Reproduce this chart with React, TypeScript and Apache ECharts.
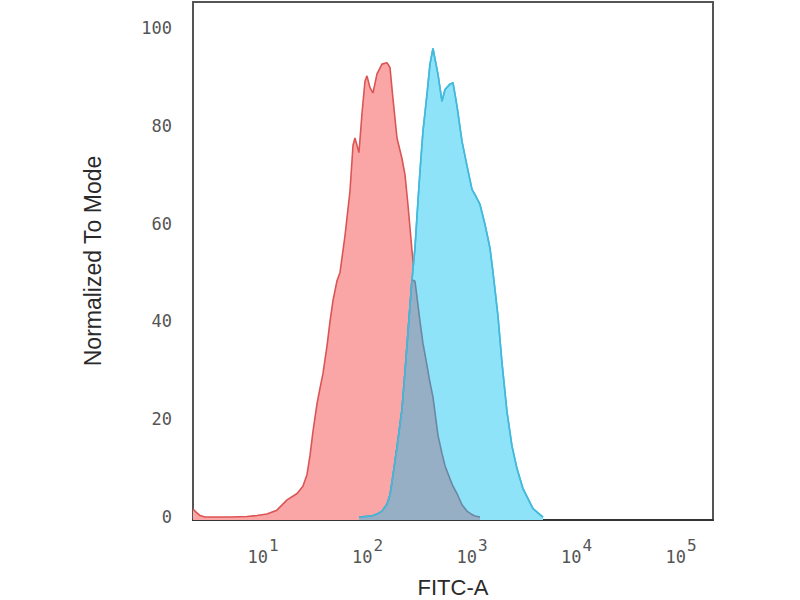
import React, { useEffect, useRef } from "react";
import * as echarts from "echarts";

// FITC-A intensity sample positions (shared by both histograms)
const fitc = [
  2.14, 2.29, 2.5, 2.79, 3.47, 4.83, 7.03, 8.76, 10.9, 13.6,
  17.0, 21.2, 24.1, 26.4, 28.2, 30.1, 32.9, 35.1, 37.5, 41.0,
  43.8, 46.8, 51.1, 54.6, 60.9, 68.0, 72.7, 75.9, 82.9, 88.6,
  94.6, 98.9, 105.7, 112.9, 123.3, 137.6, 153.7, 164.2, 175.4, 191.6,
  213.8, 228.5, 244.1, 266.6, 284.8, 297.6, 317.9, 339.7, 371, 396.3,
  423.4, 472.8, 516.4, 551.7, 615.9, 658, 718.7, 802.3, 896, 1000,
  1068, 1193, 1332, 1486, 1589, 1660, 1774, 1937, 2162, 2414,
  2696, 3076, 3834, 4779,
];

// Isotype control (red), normalized to mode
const control: (number | null)[] = [
  1.6, 1.0, 0.3, 0, 0, 0, 0.1, 0.3, 0.6, 1.4,
  3.5, 4.8, 6.3, 8.7, 12.6, 17.5, 23.2, 26.3, 29.3, 35,
  40, 44.3, 48.3, 50, 57.5, 66.6, 76, 77.5, 74.5, 82.5,
  89.1, 90.2, 87.8, 86.7, 90.6, 92.6, 92.9, 91.9, 85.5, 77.5,
  73.3, 70, 63.8, 54.5, 48.2, 45, 40, 35.5, 31, 27.5,
  24.5, 16.7, 13, 10.5, 7.8, 6.3, 4.8, 2.5, 1.2, 0.5,
  0.2, 0, null, null, null, null, null, null, null, null,
  null, null, null, null,
];

// Stained sample (blue), normalized to mode
const stained: (number | null)[] = [
  null, null, null, null, null, null, null, null, null, null,
  null, null, null, null, null, null, null, null, null, null,
  null, null, null, null, null, null, null, null, 0, 0,
  0.1, 0.1, 0.2, 0.3, 0.6, 1.2, 2.6, 4.5, 8.5, 14.3,
  22, 29.7, 37.8, 48.5, 55, 61.5, 70.7, 78.9, 86.4, 92.6,
  95.8, 90.5, 85, 87.4, 88.5, 88.8, 84, 76.8, 71.8, 67,
  65.9, 63.9, 59.8, 55, 50, 46.5, 41, 31.5, 21.5, 14.5,
  9.9, 5.8, 1.7, 0,
];

const xTickValues = [10, 100, 1000, 10000, 100000];
const xTickExponents = ["1", "2", "3", "4", "5"];
const yTickValues = [0, 20, 40, 60, 80, 100];

export default function App() {
  const ref = useRef<HTMLDivElement>(null);

  useEffect(() => {
    if (!ref.current) return;
    const chart = echarts.init(ref.current, undefined, { renderer: "svg" });

    const redData = fitc.map((x, i) => [x, control[i]]);
    const blueData = fitc.map((x, i) => [x, stained[i]]);
    const overlapData = fitc.map((x, i) => {
      const r = control[i];
      const b = stained[i];
      return [x, r == null || b == null ? null : Math.min(r, b)];
    });

    const tickFont = "DejaVu Sans Mono";

    chart.setOption({
      animation: false,
      backgroundColor: "#ffffff",
      grid: {
        left: 193,
        right: 87,
        top: 2,
        bottom: 80,
        outerBoundsMode: "none",
        containLabel: false,
        show: true,
        borderColor: "#555",
        borderWidth: 2,
        backgroundColor: "transparent",
      },
      xAxis: {
        type: "log",
        logBase: 10,
        min: 2.14,
        max: 202400,
        name: "FITC-A",
        nameLocation: "middle",
        nameGap: 56,
        nameTextStyle: {
          fontFamily: "Liberation Sans",
          fontSize: 22,
          color: "#2a2a2a",
        },
        axisLine: { show: true, onZero: false, lineStyle: { color: "#333", width: 2 } },
        axisTick: { show: false },
        splitLine: { show: false },
        minorTick: { show: false },
        axisLabel: {
          customValues: xTickValues,
          margin: 17,
          formatter: (v: number) => {
            const idx = xTickValues.findIndex((t) => Math.abs(t - v) / t < 1e-6);
            const e = idx >= 0 ? xTickExponents[idx] : "";
            return `{b|10}{s|${e}}`;
          },
          rich: {
            b: { fontFamily: tickFont, fontSize: 17, color: "#555" },
            s: { fontFamily: tickFont, fontSize: 16, color: "#555", padding: [0, 0, 24, 1] },
          },
        },
      },
      yAxis: {
        type: "value",
        min: -0.61,
        max: 105.3,
        name: "Normalized To Mode",
        nameLocation: "middle",
        nameGap: 89,
        nameTextStyle: {
          fontFamily: "Liberation Sans",
          fontSize: 23,
          color: "#2a2a2a",
        },
        axisLine: { show: false },
        axisTick: { show: false },
        splitLine: { show: false },
        axisLabel: {
          customValues: yTickValues,
          margin: 21,
          fontFamily: tickFont,
          fontSize: 17,
          color: "#555",
        },
      },
      series: [
        {
          name: "control",
          type: "line",
          data: redData,
          symbol: "none",
          lineStyle: { color: "#dc5454", width: 1.6 },
          areaStyle: { color: "#fba6a6", opacity: 1, origin: "start" },
          z: 2,
        },
        {
          name: "stained",
          type: "line",
          data: blueData,
          symbol: "none",
          lineStyle: { color: "#3fbde0", width: 1.6 },
          areaStyle: { color: "#8fe3f8", opacity: 1, origin: "start" },
          z: 3,
        },
        {
          name: "overlap",
          type: "line",
          data: overlapData,
          symbol: "none",
          lineStyle: { color: "#6a87a3", width: 1.6 },
          areaStyle: { color: "#97afc5", opacity: 1, origin: "start" },
          z: 4,
        },
        {
          name: "stained-edge",
          type: "line",
          data: blueData,
          symbol: "none",
          lineStyle: { color: "#45b9dc", width: 1.6 },
          z: 5,
        },
      ],
    });

    return () => chart.dispose();
  }, []);

  return (
    <div
      ref={ref}
      style={{ position: "fixed", left: 0, top: 0, width: 800, height: 600 }}
    />
  );
}
